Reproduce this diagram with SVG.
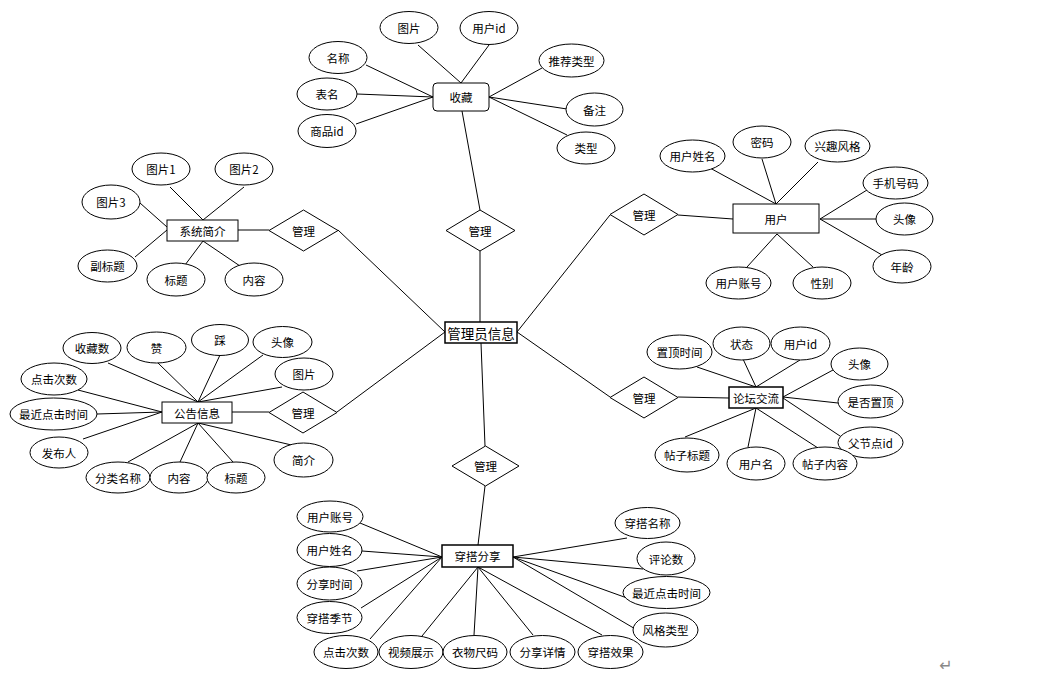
<svg xmlns="http://www.w3.org/2000/svg" width="1047" height="673" viewBox="0 0 1047 673">
<style>
text{font-family:"Noto Sans CJK SC","Liberation Sans",sans-serif;font-size:11.5px;fill:#000;text-anchor:middle;dominant-baseline:central}
.e{fill:#fff;stroke:#000;stroke-width:1}
.r{fill:#fff;stroke:#000;stroke-width:1}
.d{fill:#fff;stroke:#000;stroke-width:1}
.c line{stroke:#000;stroke-width:1}
.big{font-size:13.5px}
.mark{fill:#888;font-size:16px;font-family:"DejaVu Sans",sans-serif}
</style>
<rect width="1047" height="673" fill="#fff"/>
<g class="c" id="connectors">
<!-- 收藏 -->
<line x1="418" y1="45" x2="461" y2="83"/>
<line x1="489" y1="45" x2="461" y2="83"/>
<line x1="366" y1="65" x2="433" y2="97"/>
<line x1="357" y1="94" x2="433" y2="97"/>
<line x1="356" y1="124" x2="433" y2="97"/>
<line x1="542" y1="68" x2="489" y2="97"/>
<line x1="567" y1="109" x2="489" y2="97"/>
<line x1="567" y1="135" x2="489" y2="97"/>
<line x1="462" y1="111" x2="480" y2="210"/>
<line x1="480" y1="251" x2="480" y2="322"/>
<!-- 系统简介 -->
<line x1="170" y1="187" x2="203" y2="220"/>
<line x1="244" y1="187" x2="203" y2="220"/>
<line x1="140" y1="203" x2="167" y2="227"/>
<line x1="135" y1="257" x2="167" y2="230"/>
<line x1="185" y1="265" x2="203" y2="241"/>
<line x1="240" y1="266" x2="203" y2="241"/>
<line x1="238" y1="230" x2="269" y2="230"/>
<line x1="338" y1="230" x2="445" y2="332"/>
<!-- 公告信息 -->
<line x1="108" y1="363" x2="198" y2="402"/>
<line x1="158" y1="363" x2="198" y2="402"/>
<line x1="220" y1="355" x2="198" y2="402"/>
<line x1="263" y1="355" x2="198" y2="402"/>
<line x1="282" y1="387" x2="198" y2="402"/>
<line x1="78" y1="390" x2="162" y2="412"/>
<line x1="97" y1="414" x2="162" y2="412"/>
<line x1="83" y1="439" x2="162" y2="412"/>
<line x1="128" y1="462" x2="198" y2="423"/>
<line x1="180" y1="462" x2="198" y2="423"/>
<line x1="233" y1="462" x2="198" y2="423"/>
<line x1="300" y1="447" x2="198" y2="423"/>
<line x1="232" y1="412" x2="269" y2="412"/>
<line x1="337" y1="412" x2="445" y2="332"/>
<!-- 用户 -->
<line x1="517" y1="332" x2="610" y2="215"/>
<line x1="678" y1="215" x2="733" y2="219"/>
<line x1="710" y1="168" x2="776" y2="204"/>
<line x1="762" y1="159" x2="776" y2="204"/>
<line x1="818" y1="162" x2="776" y2="204"/>
<line x1="867" y1="190" x2="820" y2="219"/>
<line x1="876" y1="219" x2="820" y2="219"/>
<line x1="882" y1="255" x2="820" y2="219"/>
<line x1="747" y1="267" x2="777" y2="234"/>
<line x1="813" y1="267" x2="777" y2="234"/>
<!-- 论坛交流 -->
<line x1="517" y1="332" x2="610" y2="397"/>
<line x1="678" y1="397" x2="729" y2="398"/>
<line x1="697" y1="367" x2="756" y2="387"/>
<line x1="743" y1="359" x2="756" y2="387"/>
<line x1="800" y1="360" x2="756" y2="387"/>
<line x1="833" y1="370" x2="783" y2="397"/>
<line x1="838" y1="403" x2="783" y2="397"/>
<line x1="843" y1="438" x2="783" y2="398"/>
<line x1="685" y1="437" x2="756" y2="408"/>
<line x1="748" y1="447" x2="756" y2="408"/>
<line x1="818" y1="448" x2="756" y2="408"/>
<!-- 穿搭分享 -->
<line x1="481" y1="343" x2="485" y2="446"/>
<line x1="485" y1="486" x2="478" y2="545"/>
<line x1="360" y1="523" x2="442" y2="557"/>
<line x1="362" y1="551" x2="442" y2="557"/>
<line x1="357" y1="571" x2="442" y2="557"/>
<line x1="361" y1="608" x2="442" y2="557"/>
<line x1="370" y1="639" x2="442" y2="557"/>
<line x1="422" y1="636" x2="478" y2="567"/>
<line x1="474" y1="635" x2="478" y2="567"/>
<line x1="533" y1="635" x2="478" y2="567"/>
<line x1="602" y1="635" x2="478" y2="567"/>
<line x1="627" y1="538" x2="513" y2="557"/>
<line x1="643" y1="569" x2="513" y2="557"/>
<line x1="627" y1="598" x2="513" y2="557"/>
<line x1="637" y1="630" x2="513" y2="557"/>
</g>

<!-- central -->
<g id="admin"><rect class="r" x="445" y="322" width="72" height="21" style="stroke-width:1.5"/><text class="big" x="481" y="332.5">管理员信息</text></g>
<g id="m-top"><polygon class="d" points="480,210 515,230.5 480,251 446,230.5"/><text x="480" y="230.5">管理</text></g>
<g id="m-left1"><polygon class="d" points="303.5,210 338,230.5 303.5,251 269,230.5"/><text x="303.5" y="230.5">管理</text></g>
<g id="m-left2"><polygon class="d" points="303,392 337,412.5 303,433 269,412.5"/><text x="303" y="412.5">管理</text></g>
<g id="m-right1"><polygon class="d" points="644,194 678,214.5 644,235 610,214.5"/><text x="644" y="214.5">管理</text></g>
<g id="m-right2"><polygon class="d" points="644,377 678,397.5 644,418 610,397.5"/><text x="644" y="397.5">管理</text></g>
<g id="m-bottom"><polygon class="d" points="485.5,446 519,466 485.5,486 452,466"/><text x="485.5" y="466">管理</text></g>

<!-- 收藏 -->
<g id="shoucang"><rect class="r" x="433" y="83" width="56" height="28" rx="4"/><text x="461" y="97">收藏</text></g>
<g id="sc-tupian"><ellipse class="e" cx="409" cy="27.5" rx="29" ry="16"/><text x="409" y="27.5">图片</text></g>
<g id="sc-yonghuid"><ellipse class="e" cx="489" cy="28" rx="29" ry="16.5"/><text x="489" y="28">用户id</text></g>
<g id="sc-mingcheng"><ellipse class="e" cx="338" cy="57.5" rx="29" ry="16"/><text x="338" y="57.5">名称</text></g>
<g id="sc-biaoming"><ellipse class="e" cx="327" cy="94" rx="30" ry="16"/><text x="327" y="94">表名</text></g>
<g id="sc-shangpinid"><ellipse class="e" cx="327" cy="131" rx="29" ry="16.5"/><text x="327" y="131">商品id</text></g>
<g id="sc-tuijian"><ellipse class="e" cx="571.5" cy="60.5" rx="32.5" ry="16.5"/><text x="571.5" y="60.5">推荐类型</text></g>
<g id="sc-beizhu"><ellipse class="e" cx="594.5" cy="109.5" rx="28.5" ry="16.5"/><text x="594.5" y="109.5">备注</text></g>
<g id="sc-leixing"><ellipse class="e" cx="586" cy="148" rx="29" ry="16"/><text x="586" y="148">类型</text></g>

<!-- 系统简介 -->
<g id="xitong"><rect class="r" x="167" y="220" width="71" height="21"/><text x="202.5" y="230.5">系统简介</text></g>
<g id="xt-tp1"><ellipse class="e" cx="161" cy="169" rx="29" ry="16"/><text x="161" y="169">图片1</text></g>
<g id="xt-tp2"><ellipse class="e" cx="244" cy="169" rx="29" ry="16"/><text x="244" y="169">图片2</text></g>
<g id="xt-tp3"><ellipse class="e" cx="111" cy="202" rx="29" ry="17"/><text x="111" y="202">图片3</text></g>
<g id="xt-fbt"><ellipse class="e" cx="107.5" cy="266" rx="29.5" ry="16"/><text x="107.5" y="266">副标题</text></g>
<g id="xt-bt"><ellipse class="e" cx="176" cy="279.5" rx="29" ry="16.5"/><text x="176" y="279.5">标题</text></g>
<g id="xt-nr"><ellipse class="e" cx="254" cy="279.5" rx="29" ry="16.5"/><text x="254" y="279.5">内容</text></g>

<!-- 公告信息 -->
<g id="gonggao"><rect class="r" x="162" y="402" width="70" height="21"/><text x="197" y="412.5">公告信息</text></g>
<g id="gg-scs"><ellipse class="e" cx="92" cy="348" rx="29" ry="15.5"/><text x="92" y="348">收藏数</text></g>
<g id="gg-zan"><ellipse class="e" cx="156.5" cy="347.5" rx="29.5" ry="15.5"/><text x="156.5" y="347.5">赞</text></g>
<g id="gg-cai"><ellipse class="e" cx="220" cy="340" rx="28.5" ry="15.5"/><text x="220" y="340">踩</text></g>
<g id="gg-tx"><ellipse class="e" cx="282.5" cy="342" rx="29.5" ry="15.5"/><text x="282.5" y="342">头像</text></g>
<g id="gg-tp"><ellipse class="e" cx="304" cy="374" rx="29" ry="16"/><text x="304" y="374">图片</text></g>
<g id="gg-djcs"><ellipse class="e" cx="54" cy="379" rx="33" ry="16"/><text x="54" y="379">点击次数</text></g>
<g id="gg-zjdj"><ellipse class="e" cx="53.5" cy="414" rx="43.5" ry="16"/><text x="53.5" y="414">最近点击时间</text></g>
<g id="gg-fbr"><ellipse class="e" cx="59" cy="452.5" rx="29" ry="15.5"/><text x="59" y="452.5">发布人</text></g>
<g id="gg-flmc"><ellipse class="e" cx="118" cy="477.5" rx="32" ry="15.5"/><text x="118" y="477.5">分类名称</text></g>
<g id="gg-nr"><ellipse class="e" cx="179" cy="477.5" rx="29" ry="15.5"/><text x="179" y="477.5">内容</text></g>
<g id="gg-bt"><ellipse class="e" cx="236" cy="477.5" rx="29" ry="15.5"/><text x="236" y="477.5">标题</text></g>
<g id="gg-jj"><ellipse class="e" cx="303.5" cy="460" rx="29.5" ry="17"/><text x="303.5" y="460">简介</text></g>

<!-- 用户 -->
<g id="yonghu"><rect class="r" x="733" y="204" width="86" height="29"/><text x="776" y="218.5">用户</text></g>
<g id="yh-xm"><ellipse class="e" cx="692.5" cy="156" rx="32.5" ry="16"/><text x="692.5" y="156">用户姓名</text></g>
<g id="yh-mm"><ellipse class="e" cx="762" cy="142" rx="29" ry="16"/><text x="762" y="142">密码</text></g>
<g id="yh-xq"><ellipse class="e" cx="837.5" cy="146" rx="32.5" ry="16"/><text x="837.5" y="146">兴趣风格</text></g>
<g id="yh-sj"><ellipse class="e" cx="895.5" cy="183" rx="32.5" ry="16"/><text x="895.5" y="183">手机号码</text></g>
<g id="yh-tx"><ellipse class="e" cx="904.5" cy="219" rx="28.5" ry="16"/><text x="904.5" y="219">头像</text></g>
<g id="yh-nl"><ellipse class="e" cx="902" cy="266.5" rx="29" ry="16.5"/><text x="902" y="266.5">年龄</text></g>
<g id="yh-zh"><ellipse class="e" cx="738.5" cy="283" rx="32.5" ry="16"/><text x="738.5" y="283">用户账号</text></g>
<g id="yh-xb"><ellipse class="e" cx="822" cy="283" rx="29" ry="16"/><text x="822" y="283">性别</text></g>

<!-- 论坛交流 -->
<g id="luntan"><rect class="r" x="729" y="387" width="54" height="21" style="stroke-width:1.5"/><text x="756" y="397.5">论坛交流</text></g>
<g id="lt-zdsj"><ellipse class="e" cx="679.5" cy="352" rx="32.5" ry="17"/><text x="679.5" y="352">置顶时间</text></g>
<g id="lt-zt"><ellipse class="e" cx="741.5" cy="343.5" rx="28.5" ry="16.5"/><text x="741.5" y="343.5">状态</text></g>
<g id="lt-yhid"><ellipse class="e" cx="800.5" cy="343.5" rx="29.5" ry="16.5"/><text x="800.5" y="343.5">用户id</text></g>
<g id="lt-tx"><ellipse class="e" cx="859.5" cy="364" rx="28.5" ry="16"/><text x="859.5" y="364">头像</text></g>
<g id="lt-sfzd"><ellipse class="e" cx="870.5" cy="401.5" rx="32.5" ry="16.5"/><text x="870.5" y="401.5">是否置顶</text></g>
<g id="lt-fjd"><ellipse class="e" cx="870.5" cy="442.5" rx="32.5" ry="15.5"/><text x="870.5" y="442.5">父节点id</text></g>
<g id="lt-tzbt"><ellipse class="e" cx="687" cy="455" rx="32" ry="17"/><text x="687" y="455">帖子标题</text></g>
<g id="lt-yhm"><ellipse class="e" cx="756" cy="463.5" rx="29" ry="16.5"/><text x="756" y="463.5">用户名</text></g>
<g id="lt-tznr"><ellipse class="e" cx="825" cy="463.5" rx="32" ry="16.5"/><text x="825" y="463.5">帖子内容</text></g>

<!-- 穿搭分享 -->
<g id="chuanda"><rect class="r" x="442" y="545" width="71" height="22" style="stroke-width:1.5"/><text x="477.5" y="556">穿搭分享</text></g>
<g id="cd-yhzh"><ellipse class="e" cx="330" cy="516.5" rx="33" ry="15.5"/><text x="330" y="516.5">用户账号</text></g>
<g id="cd-yhxm"><ellipse class="e" cx="329.5" cy="550" rx="32.5" ry="16.5"/><text x="329.5" y="550">用户姓名</text></g>
<g id="cd-fxsj"><ellipse class="e" cx="329.5" cy="583.5" rx="32.5" ry="16.5"/><text x="329.5" y="583.5">分享时间</text></g>
<g id="cd-cdjj"><ellipse class="e" cx="329.5" cy="617.5" rx="32.5" ry="16"/><text x="329.5" y="617.5">穿搭季节</text></g>
<g id="cd-djcs"><ellipse class="e" cx="346" cy="652" rx="32" ry="16.5"/><text x="346" y="652">点击次数</text></g>
<g id="cd-spzs"><ellipse class="e" cx="411" cy="652" rx="32" ry="16.5"/><text x="411" y="652">视频展示</text></g>
<g id="cd-ywcm"><ellipse class="e" cx="475" cy="652" rx="32" ry="16.5"/><text x="475" y="652">衣物尺码</text></g>
<g id="cd-fxxq"><ellipse class="e" cx="542.5" cy="652" rx="32.5" ry="16.5"/><text x="542.5" y="652">分享详情</text></g>
<g id="cd-cdxg"><ellipse class="e" cx="610.5" cy="652" rx="32.5" ry="16.5"/><text x="610.5" y="652">穿搭效果</text></g>
<g id="cd-cdmc"><ellipse class="e" cx="647.5" cy="523" rx="32.5" ry="15.5"/><text x="647.5" y="523">穿搭名称</text></g>
<g id="cd-pls"><ellipse class="e" cx="666" cy="558.5" rx="29" ry="16.5"/><text x="666" y="558.5">评论数</text></g>
<g id="cd-zjdj"><ellipse class="e" cx="666.5" cy="592.5" rx="43.5" ry="16"/><text x="666.5" y="592.5">最近点击时间</text></g>
<g id="cd-fglx"><ellipse class="e" cx="665.5" cy="630" rx="32.5" ry="17"/><text x="665.5" y="630">风格类型</text></g>

<text class="mark" x="946" y="665">↵</text>
</svg>
